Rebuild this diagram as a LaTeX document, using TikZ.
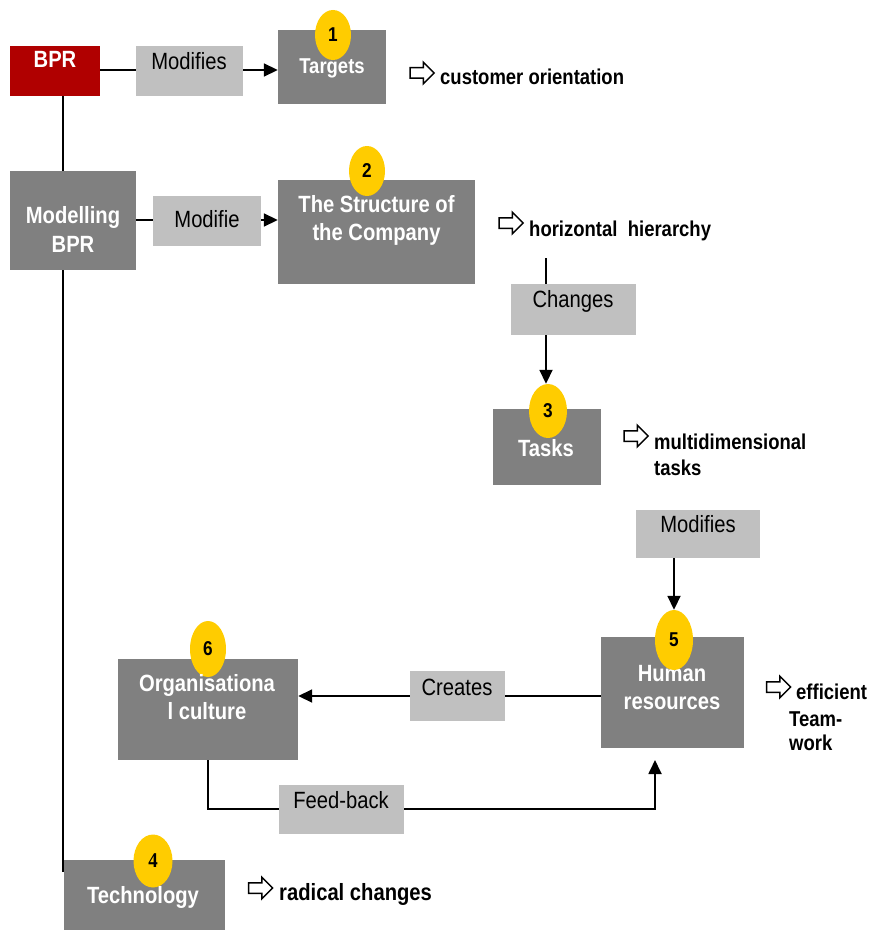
\documentclass[tikz,border=0pt]{standalone}
\usepackage{fontspec}
\setmainfont{Liberation Sans}[FakeStretch=0.86]
\newfontfamily\digitserif{Liberation Serif}[FakeStretch=0.9]
\usetikzlibrary{arrows.meta,shapes.geometric,shapes.arrows}
\definecolor{boxgrey}{HTML}{808080}
\definecolor{labgrey}{HTML}{C0C0C0}
\definecolor{bprred}{HTML}{B00000}
\definecolor{badge}{HTML}{FFCC00}
\tikzset{
  stage/.style={fill=boxgrey, inner sep=0pt},
  rootbox/.style={fill=bprred, inner sep=0pt},
  verb/.style={fill=labgrey, inner sep=0pt},
  whitetxt/.style={text=white, inner sep=0pt, anchor=base, font=\bfseries\fontsize{23.5}{28}\selectfont},
  smallwhite/.style={whitetxt, font=\bfseries\fontsize{21.5}{26}\selectfont},
  verbtxt/.style={text=black, inner sep=0pt, anchor=base, font=\fontsize{23.5}{28}\selectfont},
  note/.style={text=black, inner sep=0pt, anchor=base west, font=\bfseries\fontsize{23.5}{28}\selectfont},
  smallnote/.style={note, font=\bfseries\fontsize{21.5}{26}\selectfont},
  badgeell/.style={ellipse, fill=badge, inner sep=0pt, font=\bfseries\fontsize{20}{20}\selectfont},
  hint/.style={single arrow, draw=black, fill=white, line width=1.5pt,
    minimum height=24pt, minimum width=20pt, single arrow head extend=5.5pt,
    inner xsep=0pt, inner ysep=4.5pt, single arrow head indent=0pt},
  link/.style={line width=1.8pt, draw=black},
  flow/.style={link, -{Triangle[length=14pt,width=13pt]}}
}
\begin{document}
\begin{tikzpicture}[x=1pt, y=-1pt]
\useasboundingbox (0,0) rectangle (871,931);

% ---- main boxes
\node[rootbox, minimum width=90pt, minimum height=50pt] (bpr) at (55,71) {};
\node[stage, minimum width=108pt, minimum height=74pt] (targets) at (332,67) {};
\node[stage, minimum width=126pt, minimum height=99pt] (modelling) at (73,220.5) {};
\node[stage, minimum width=197pt, minimum height=104pt] (struct) at (376.5,232) {};
\node[stage, minimum width=108pt, minimum height=76pt] (tasks) at (547,447) {};
\node[stage, minimum width=143pt, minimum height=111pt] (hr) at (672.5,692.5) {};
\node[stage, minimum width=180pt, minimum height=101pt] (org) at (208,709.5) {};
\node[stage, minimum width=161pt, minimum height=70pt] (tech) at (144.5,895) {};

% ---- helper coordinates for the routed connectors
\coordinate (spine) at (63,0);
\coordinate (spineend) at (63,872);
\coordinate (toprow) at (0,70);
\coordinate (midrow) at (0,220);
\coordinate (chtop) at (546,258);
\coordinate (crrow) at (0,696);
\coordinate (fbrow) at (0,809);
\coordinate (fbend) at (655,760);

% ---- badges (drawn before the connectors that point at them)
\node[badgeell, minimum width=36pt, minimum height=50pt] (c1) at (333,35) {1};
\node[badgeell, minimum width=36pt, minimum height=50pt] (c2) at (367,171) {2};
\node[badgeell, minimum width=38pt, minimum height=54pt] (c3) at (548,411) {3};
\node[badgeell, minimum width=39pt, minimum height=53pt, font=\digitserif\bfseries\fontsize{21}{21}\selectfont] (c4) at (153,861) {4};
\node[badgeell, minimum width=36pt, minimum height=56pt] (c6) at (208,649) {6};

% ---- connectors
\draw[link] (bpr.south -| spine) -- (modelling.north -| spine);
\draw[link] (modelling.south -| spine) -- (spineend);
\draw[flow] (bpr.east |- toprow) -- (targets.west |- toprow);
\draw[flow] (modelling.east |- midrow) -- (struct.west |- midrow);

% ---- verb labels
\node[verb, minimum width=107pt, minimum height=50pt] (mod1) at (189.5,71) {};
\node[verb, minimum width=108pt, minimum height=50pt] (mod2) at (207,221) {};
\node[verb, minimum width=125pt, minimum height=51pt] (changes) at (573.5,309.5) {};
\node[verb, minimum width=124pt, minimum height=48pt] (mod3) at (698,534) {};

\draw[link] (chtop) -- (chtop |- changes.north);
\draw[flow] (changes.south -| chtop) -- (chtop |- c3.north);

\draw[flow] (crrow -| hr.west) -- (crrow -| org.east);
\draw[flow] (org.south) -- (org.south |- fbrow) -- (fbend |- fbrow) -- (fbend);

\node[verb, minimum width=95pt, minimum height=50pt] (creates) at (457.5,696) {};
\node[verb, minimum width=125pt, minimum height=49pt] (feedback) at (341.5,809.5) {};

% ---- box texts
\node[whitetxt] (bpr-t) at (55,68) {BPR};
\node[smallwhite] (targets-t) at (332,74) {Targets};
\node[whitetxt] (modelling-t1) at (73,223) {Modelling};
\node[whitetxt] (modelling-t2) at (73,252) {BPR};
\node[whitetxt] (struct-t1) at (376.5,212) {The Structure of};
\node[whitetxt] (struct-t2) at (376.5,240) {the Company};
\node[whitetxt] (tasks-t) at (546,456) {Tasks};
\node[whitetxt] (org-t1) at (207,691) {Organisationa};
\node[whitetxt] (org-t2) at (207,719) {l culture};
\node[whitetxt] (hr-t1) at (672,681) {Human};
\node[whitetxt] (hr-t2) at (672,709) {resources};
\node[whitetxt] (tech-t) at (143,903) {Technology};

% ---- verb texts
\node[verbtxt] (mod1-t) at (189,70) {Modifies};
\node[verbtxt] (mod2-t) at (207,227) {Modifie};
\node[verbtxt] (changes-t) at (573,307) {Changes};
\node[verbtxt] (mod3-t) at (698,532) {Modifies};
\node[verbtxt] (creates-t) at (457,695) {Creates};
\node[verbtxt] (feedback-t) at (341,808) {Feed-back};

% ---- badge drawn over its box text
\node[badgeell, minimum width=38pt, minimum height=60pt] (c5) at (674,640) {5};
\draw[flow] (mod3.south -| c5) -- (c5.north);

% ---- outcomes
\node[hint] (h1) at (419.5,73) {};
\node[smallnote] (o1) at (440,85) {customer orientation};
\node[hint] (h2) at (508.5,223) {};
\node[smallnote] (o2) at (529,236) {horizontal\ \ hierarchy};
\node[hint] (h3) at (633.5,436) {};
\node[smallnote] (o3a) at (654,449) {multidimensional};
\node[smallnote] (o3b) at (654,475) {tasks};
\node[hint] (h5) at (776,687) {};
\node[smallnote] (o5a) at (796,699) {efficient};
\node[smallnote] (o5b) at (789,726) {Team-};
\node[smallnote] (o5c) at (789,750) {work};
\node[hint] (h4) at (258,888) {};
\node[note] (o4) at (279,900) {radical changes};
\end{tikzpicture}
\end{document}
